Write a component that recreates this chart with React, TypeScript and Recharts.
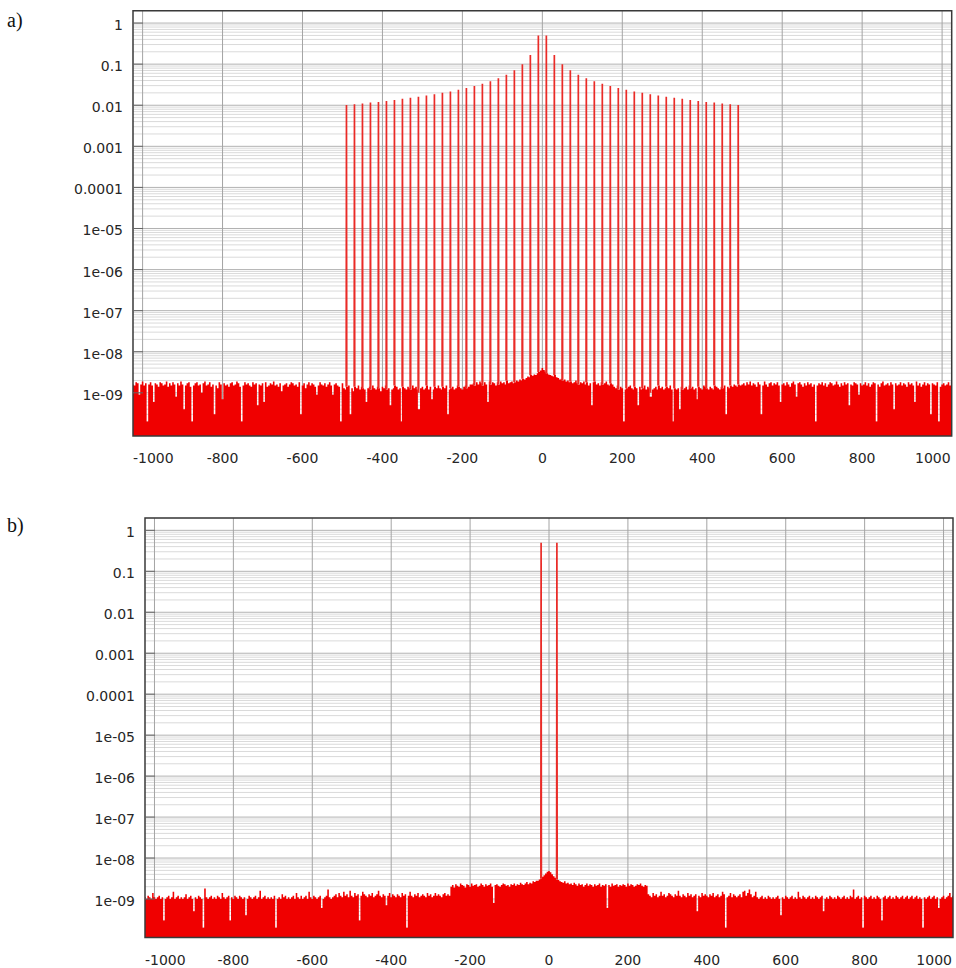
import React from 'react';
import { ComposedChart, Area, Line, XAxis, YAxis, CartesianGrid, ReferenceArea } from 'recharts';

// ---------- axes ----------
const xTicks = [-1000, -800, -600, -400, -200, 0, 200, 400, 600, 800, 1000];
const xTickLabels = ['-1000', '-800', '-600', '-400', '-200', '0', '200', '400', '600', '800', '1000'];
const yTicks = [1, 0.1, 0.01, 0.001, 0.0001, 1e-5, 1e-6, 1e-7, 1e-8, 1e-9];
const yTickLabels = ['1', '0.1', '0.01', '0.001', '0.0001', '1e-05', '1e-06', '1e-07', '1e-08', '1e-09'];
const yMajorLines = [1, 0.1, 0.01, 0.001, 0.0001, 1e-5, 1e-6, 1e-7, 1e-8, 1e-9, 1e-10];
const yMinorFactors = [2, 3, 4, 5, 6, 7, 8, 9];
const xDomain: [number, number] = [-1024, 1024];
const yMaxA = 2;
const yMinA = 8.9e-11;
const yMaxB = 2;
const yMinB = 1.15e-10;

// ---------- noise floor (units of 1e-10, one value every 4 bins from -1024) ----------
const noiseStart = -1024;
const noiseStep = 4;
const noiseUnit = 1e-10;

const noiseA = [
  16,15,18,17,9,16,19,15,17,2,16,18,15,6,17,16,14,18,17,15,
  16,19,14,17,15,18,16,8,17,15,19,16,4,15,17,18,14,2,15,17,
  18,15,16,10,17,19,15,16,18,14,16,3,15,13,18,16,7,17,15,16,
  14,17,18,15,16,19,17,14,2,15,18,16,17,15,14,18,16,17,5,16,
  15,17,6,18,14,15,17,16,19,15,16,14,17,11,15,16,17,14,16,18,
  17,15,16,14,18,3,15,17,13,16,18,15,17,16,14,9,15,18,16,15,
  17,14,16,18,15,9,16,17,15,14,2,17,
  13,12,14,15,3,13,11,14,13,15,12,14,13,12,6,13,14,12,15,13,
  12,14,13,11,14,13,15,12,13,5,12,13,15,14,12,13,2,14,13,12,
  14,13,12,15,13,14,12,4,13,14,12,13,15,12,14,7,12,14,13,15,
  13,12,14,13,15,3,12,13,14,12,13,15,14,13,12,14,15,13,14,16,
  16,17,15,18,16,19,17,15,18,16,6,19,16,18,17,15,18,16,19,17,18,16,20,17,18,19,17,18,20,19,21,20,22,21,
  23,25,24,27,26,28,27,30,32,35,40,36,33,30,28,27,26,25,27,24,23,
  21,22,20,21,19,20,18,19,17,18,20,17,16,18,17,19,16,18,15,17,5,18,19,16,17,15,18,16,17,19,16,15,17,16,
  14,13,15,12,14,13,2,12,13,14,15,13,12,14,13,5,14,12,13,15,
  12,14,13,8,12,13,14,12,15,13,14,12,13,14,13,15,12,2,13,12,
  13,4,14,12,13,14,12,15,13,14,12,13,7,14,13,12,15,14,13,12,
  14,13,12,15,14,13,12,14,13,15,3,14,13,15,14,16,15,14,16,15,
  16,17,15,18,16,19,15,17,16,14,18,16,3,15,19,16,14,17,18,15,
  17,16,18,15,6,16,17,15,18,16,14,17,19,16,8,17,18,16,14,17,
  15,18,16,17,14,16,2,15,17,16,18,15,17,14,16,18,17,15,16,19,
  16,14,17,15,18,16,17,5,16,15,18,17,16,9,17,15,16,18,15,17,
  14,16,18,17,2,16,14,17,19,15,16,17,15,18,16,4,17,15,16,18,
  15,17,16,14,18,16,17,15,6,19,15,17,14,16,18,15,17,16,3,17,
  16,15,18,2,14,16,17,15,16,18,15,19,
];

const noiseB = [
  11,10,12,11,10,14,11,10,11,12,10,11,3,10,11,12,10,11,15,10,
  11,12,10,11,10,11,13,10,11,12,10,5,11,10,12,11,10,2,18,11,
  10,11,12,10,11,10,12,11,10,14,11,10,11,12,3,11,10,12,11,10,
  12,11,10,11,4,10,12,11,10,11,12,10,11,16,10,11,12,10,11,10,
  11,10,12,2,10,11,10,13,11,12,10,11,10,11,12,10,14,11,10,12,
  10,11,12,10,15,11,10,12,11,10,11,12,6,10,11,12,17,11,10,11,
  12,13,11,14,12,11,15,12,13,11,16,12,11,14,12,13,3,12,15,13,
  12,11,13,12,14,11,12,13,16,12,11,13,12,7,12,14,11,13,12,11,
  13,12,11,14,12,13,2,12,15,12,11,13,12,14,11,12,13,12,11,14,
  12,13,11,12,14,12,13,12,11,13,14,12,13,12,
  20,22,19,23,21,20,24,22,21,19,23,22,20,24,21,22,23,20,21,24,
  22,20,23,21,22,24,20,8,22,23,21,20,22,24,23,21,22,20,23,22,
  24,21,23,22,25,23,22,24,26,23,25,24,27,26,28,
  28,30,32,35,38,42,46,48,45,40,36,33,30,29,27,
  26,25,27,24,25,23,24,22,25,23,21,24,22,23,20,22,24,21,23,22,
  20,23,21,22,24,20,22,21,23,6,22,20,24,21,22,23,20,22,21,23,
  22,20,24,21,23,22,20,21,23,22,24,21,20,22,21,
  13,12,11,14,12,13,11,12,15,12,13,11,12,14,13,12,11,13,12,16,
  12,11,13,12,11,14,12,13,11,12,13,5,12,11,14,12,13,12,11,13,
  12,14,11,12,13,11,12,15,13,2,11,12,14,11,13,12,11,12,13,11,
  15,16,12,14,17,13,11,12,15,11,10,11,12,10,11,10,12,11,10,11,
  10,11,12,10,4,11,10,12,11,10,11,12,10,11,10,15,11,10,12,11,
  10,11,12,10,11,10,12,11,10,11,12,5,10,11,10,12,11,10,11,10,
  12,11,10,11,12,10,11,10,12,11,17,10,11,12,10,11,2,12,11,10,
  11,12,10,11,10,12,11,10,3,11,12,10,11,12,10,11,10,12,11,10,
  11,12,10,11,12,10,11,12,10,11,12,10,11,10,2,11,10,11,12,10,
  11,12,10,11,6,10,11,12,10,11,12,14,11,12,
];

// ---------- spectral lines ----------
const spikeXA = [
  -490, -470, -450, -430, -410, -390, -370, -350, -330, -310, -290, -270, -250,
  -230, -210, -190, -170, -150, -130, -110, -90, -70, -50, -30, -10,
  10, 30, 50, 70, 90, 110, 130, 150, 170, 190, 210, 230, 250,
  270, 290, 310, 330, 350, 370, 390, 410, 430, 450, 470, 490,
];
const spikeYA = [
  0.0102, 0.0106, 0.011, 0.0116, 0.012, 0.0127, 0.0135, 0.0143, 0.0152, 0.0161, 0.0172, 0.0185, 0.02,
  0.0217, 0.0238, 0.0263, 0.0294, 0.0333, 0.0385, 0.0455, 0.0556, 0.0714, 0.1, 0.167, 0.5,
  0.5, 0.167, 0.1, 0.0714, 0.0556, 0.0455, 0.0385, 0.0333, 0.0294, 0.0263, 0.0238, 0.0217, 0.02,
  0.0185, 0.0172, 0.0161, 0.0152, 0.0143, 0.0135, 0.0127, 0.012, 0.0116, 0.011, 0.0106, 0.0102,
];
const spikeXB = [-20, 20];
const spikeYB = [0.5, 0.5];

type Row = { x: number; noise: number; spike: number | null };

function buildRows(noise: number[], spikeX: number[], spikeY: number[]): Row[] {
  const rows: Row[] = [];
  const nearest = (x: number) => {
    const i = Math.min(noise.length - 1, Math.max(0, Math.round((x - noiseStart) / noiseStep)));
    return noise[i] * noiseUnit;
  };
  noise.forEach((v, i) => {
    const x = noiseStart + i * noiseStep;
    if (spikeX.some((s) => Math.abs(s - x) < 1)) return;
    rows.push({ x, noise: v * noiseUnit, spike: null });
  });
  spikeX.forEach((s, j) => {
    const b = Math.max(nearest(s), 1e-9);
    rows.push({ x: s - 0.7, noise: nearest(s), spike: b });
    rows.push({ x: s, noise: nearest(s), spike: spikeY[j] });
    rows.push({ x: s + 0.7, noise: nearest(s), spike: b });
  });
  rows.sort((a, b) => a.x - b.x);
  return rows;
}

const rowsA = buildRows(noiseA, spikeXA, spikeYA);
const rowsB = buildRows(noiseB, spikeXB, spikeYB);

const minorValues: number[] = [];
yMajorLines.forEach((m) => yMinorFactors.forEach((f) => minorValues.push(m * f)));

const scaleFn = (axis: any) => {
  const s = axis && axis.scale;
  if (!s) return null;
  if (typeof s === 'function') return (v: number) => s(v);
  if (typeof s.map === 'function') return (v: number) => s.map(v);
  if (typeof s.apply === 'function') return (v: number) => s.apply(v);
  return null;
};

const FONT = '"DejaVu Sans", Verdana, sans-serif';
const TEXT = '#262626';

type PanelProps = {
  top: number;
  height: number;
  marginTop: number;
  yAxisWidth: number;
  rightMargin: number;
  xAxisHeight: number;
  yMin: number;
  yMax: number;
  rows: Row[];
};

function Panel({ top, height, marginTop, yAxisWidth, rightMargin, xAxisHeight, yMin, yMax, rows }: PanelProps) {
  const plotLeft = yAxisWidth;
  const plotRight = 956 - rightMargin;

  const hGen = (values: number[]) => ({ yAxis, offset }: any) => {
    const f = scaleFn(yAxis);
    if (!f) return [];
    return values
      .map((v) => f(v))
      .filter((c: number) => Number.isFinite(c) && c >= offset.top - 0.5 && c <= offset.top + offset.height + 0.5);
  };
  const vGen = ({ xAxis }: any) => {
    const f = scaleFn(xAxis);
    if (!f) return [];
    return xTicks.map((v) => f(v));
  };

  const renderXTick = (p: any) => {
    const v = p.payload.value;
    const idx = xTicks.indexOf(v);
    let anchor: 'start' | 'middle' | 'end' = 'middle';
    let tx = p.x;
    if (idx === 0) {
      anchor = 'start';
      tx = plotLeft;
    } else if (idx === xTicks.length - 1) {
      anchor = 'end';
      tx = plotRight - 1;
    }
    return (
      <text x={tx} y={p.y + 27} textAnchor={anchor} fontFamily={FONT} fontSize={14} fill={TEXT}>
        {idx >= 0 ? xTickLabels[idx] : String(v)}
      </text>
    );
  };

  const renderYTick = (p: any) => {
    const v = p.payload.value;
    const idx = yTicks.findIndex((t) => Math.abs(t - v) / t < 1e-6);
    return (
      <g>
        <text x={p.x} y={p.y + 7} textAnchor="end" fontFamily={FONT} fontSize={14} fill={TEXT}>
          {idx >= 0 ? yTickLabels[idx] : String(v)}
        </text>
        <line x1={p.x + 10} x2={p.x + 20} y1={p.y} y2={p.y} stroke="#666" strokeWidth={1} />
      </g>
    );
  };

  return (
    <div style={{ position: 'absolute', left: 0, top, width: 956, height }}>
      <ComposedChart
        width={956}
        height={height}
        data={rows}
        margin={{ top: marginTop, right: rightMargin, left: 0, bottom: 0 }}
      >
        <CartesianGrid
          horizontal
          vertical={false}
          stroke="#dadada"
          strokeWidth={1}
          horizontalCoordinatesGenerator={hGen(minorValues)}
        />
        <CartesianGrid
          horizontal
          vertical={false}
          stroke="#b2b2b2"
          strokeWidth={1}
          horizontalCoordinatesGenerator={hGen(yMajorLines)}
        />
        <CartesianGrid
          horizontal={false}
          vertical
          stroke="#a4a4a4"
          strokeWidth={1}
          verticalCoordinatesGenerator={vGen}
        />
        <XAxis
          dataKey="x"
          type="number"
          domain={xDomain}
          allowDataOverflow
          ticks={xTicks}
          interval={0}
          height={xAxisHeight}
          tickSize={0}
          tickMargin={0}
          axisLine={false}
          tickLine={false}
          tick={renderXTick}
        />
        <YAxis
          type="number"
          scale="log"
          domain={[yMin, yMax]}
          allowDataOverflow
          ticks={yTicks}
          interval={0}
          width={yAxisWidth}
          tickSize={0}
          tickMargin={10}
          axisLine={false}
          tickLine={false}
          tick={renderYTick}
        />
        <Area
          dataKey="noise"
          type="step"
          baseValue={yMin}
          stroke="none"
          fill="#f00000"
          fillOpacity={1}
          dot={false}
          activeDot={false}
          isAnimationActive={false}
        />
        <Line
          dataKey="spike"
          type="linear"
          stroke="#ea2b27"
          strokeWidth={1.7}
          dot={false}
          activeDot={false}
          connectNulls={false}
          isAnimationActive={false}
        />
        <ReferenceArea
          x1={xDomain[0]}
          x2={xDomain[1]}
          y1={yMin}
          y2={yMax}
          fill="none"
          stroke="#3a3a3a"
          strokeWidth={1.5}
          ifOverflow="visible"
        />
      </ComposedChart>
    </div>
  );
}

export default function App() {
  return (
    <div style={{ position: 'absolute', left: 0, top: 0, width: 956, height: 968, background: '#fff', overflow: 'hidden' }}>
      <svg width={956} height={968} style={{ position: 'absolute', left: 0, top: 0 }}>
        <text x={7} y={27} fontFamily='"Liberation Serif", "Times New Roman", serif' fontSize={20} fill="#111">
          a)
        </text>
        <text x={7} y={532} fontFamily='"Liberation Serif", "Times New Roman", serif' fontSize={20} fill="#111">
          b)
        </text>
      </svg>
      <Panel
        top={0}
        height={468}
        marginTop={10.7}
        yAxisWidth={133}
        rightMargin={4.3}
        xAxisHeight={32}
        yMin={yMinA}
        yMax={yMaxA}
        rows={rowsA}
      />
      <Panel
        top={480}
        height={488}
        marginTop={38}
        yAxisWidth={145}
        rightMargin={3}
        xAxisHeight={30.5}
        yMin={yMinB}
        yMax={yMaxB}
        rows={rowsB}
      />
    </div>
  );
}
